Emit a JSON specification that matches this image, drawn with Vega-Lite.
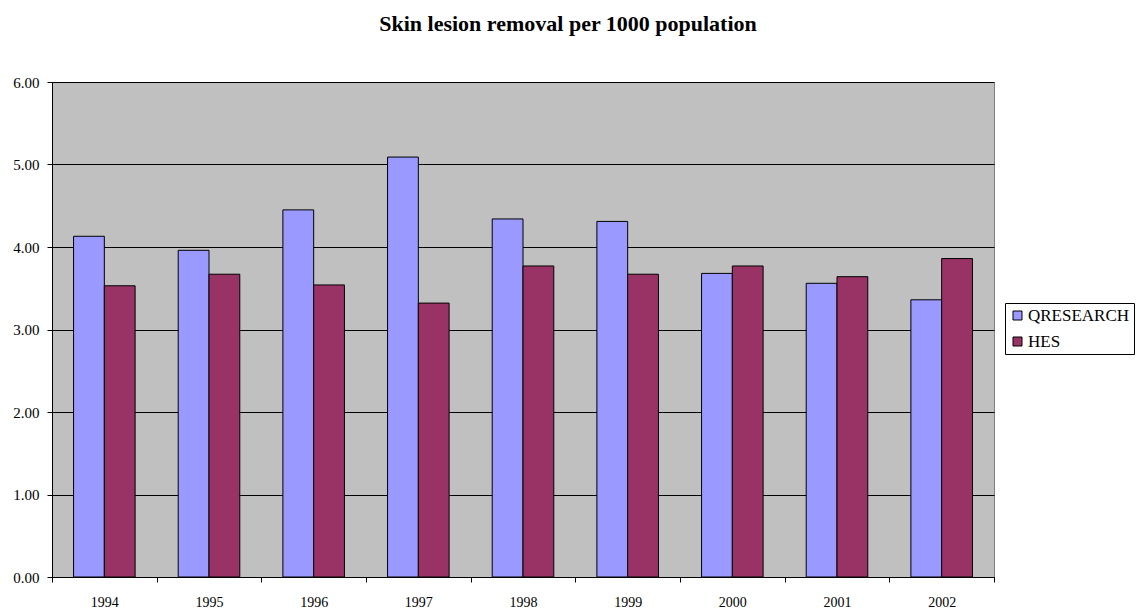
{
  "$schema": "https://vega.github.io/schema/vega-lite/v6.json",
  "autosize": "none",
  "width": 942,
  "height": 495,
  "padding": {"left": 52, "top": 82, "right": 142, "bottom": 37},
  "background": "white",
  "title": {
    "text": "Skin lesion removal per 1000 population",
    "font": "Liberation Serif",
    "fontSize": 22,
    "fontWeight": "bold",
    "color": "black",
    "anchor": "middle",
    "dx": 45,
    "offset": 39
  },
  "data": {
    "values": [
      {"year": "1994", "series": "QRESEARCH", "rate": 4.13},
      {"year": "1994", "series": "HES", "rate": 3.53},
      {"year": "1995", "series": "QRESEARCH", "rate": 3.96},
      {"year": "1995", "series": "HES", "rate": 3.67},
      {"year": "1996", "series": "QRESEARCH", "rate": 4.45},
      {"year": "1996", "series": "HES", "rate": 3.54},
      {"year": "1997", "series": "QRESEARCH", "rate": 5.09},
      {"year": "1997", "series": "HES", "rate": 3.32},
      {"year": "1998", "series": "QRESEARCH", "rate": 4.34},
      {"year": "1998", "series": "HES", "rate": 3.77},
      {"year": "1999", "series": "QRESEARCH", "rate": 4.31},
      {"year": "1999", "series": "HES", "rate": 3.67},
      {"year": "2000", "series": "QRESEARCH", "rate": 3.68},
      {"year": "2000", "series": "HES", "rate": 3.77},
      {"year": "2001", "series": "QRESEARCH", "rate": 3.56},
      {"year": "2001", "series": "HES", "rate": 3.64},
      {"year": "2002", "series": "QRESEARCH", "rate": 3.36},
      {"year": "2002", "series": "HES", "rate": 3.86}
    ]
  },
  "mark": {"type": "bar", "stroke": "black", "strokeWidth": 1},
  "encoding": {
    "x": {
      "field": "year",
      "type": "nominal",
      "scale": {"paddingInner": 0, "paddingOuter": 0},
      "axis": {
        "title": null,
        "labelAngle": 0,
        "tickBand": "extent",
        "labelFont": "Liberation Serif",
        "labelFontSize": 14,
        "labelColor": "black",
        "labelPadding": 13,
        "tickColor": "black",
        "tickSize": 5,
        "domainColor": "black",
        "grid": false
      }
    },
    "xOffset": {
      "field": "series",
      "type": "nominal",
      "sort": ["QRESEARCH", "HES"],
      "scale": {"paddingInner": 0, "paddingOuter": 0.7}
    },
    "y": {
      "field": "rate",
      "type": "quantitative",
      "scale": {"domain": [0, 6]},
      "axis": {
        "title": null,
        "values": [0, 1, 2, 3, 4, 5, 6],
        "format": ".2f",
        "labelFont": "Liberation Serif",
        "labelFontSize": 15,
        "labelColor": "black",
        "labelPadding": 8,
        "tickColor": "black",
        "tickSize": 5,
        "domainColor": "black",
        "grid": true,
        "gridColor": "black",
        "gridWidth": 1
      }
    },
    "color": {
      "field": "series",
      "type": "nominal",
      "sort": ["QRESEARCH", "HES"],
      "scale": {"domain": ["QRESEARCH", "HES"], "range": ["#9999FF", "#993366"]},
      "legend": {
        "title": null,
        "orient": "none",
        "legendX": 953,
        "legendY": 221,
        "symbolType": "square",
        "symbolSize": 81,
        "symbolStrokeColor": "black",
        "symbolStrokeWidth": 1,
        "labelFont": "Liberation Serif",
        "labelFontSize": 17,
        "labelColor": "black",
        "labelOffset": 2,
        "strokeColor": "black",
        "padding": 4,
        "rowPadding": 8,
        "fillColor": "white"
      }
    }
  },
  "config": {
    "view": {"fill": "#C0C0C0", "stroke": "#808080", "strokeWidth": 1}
  }
}
